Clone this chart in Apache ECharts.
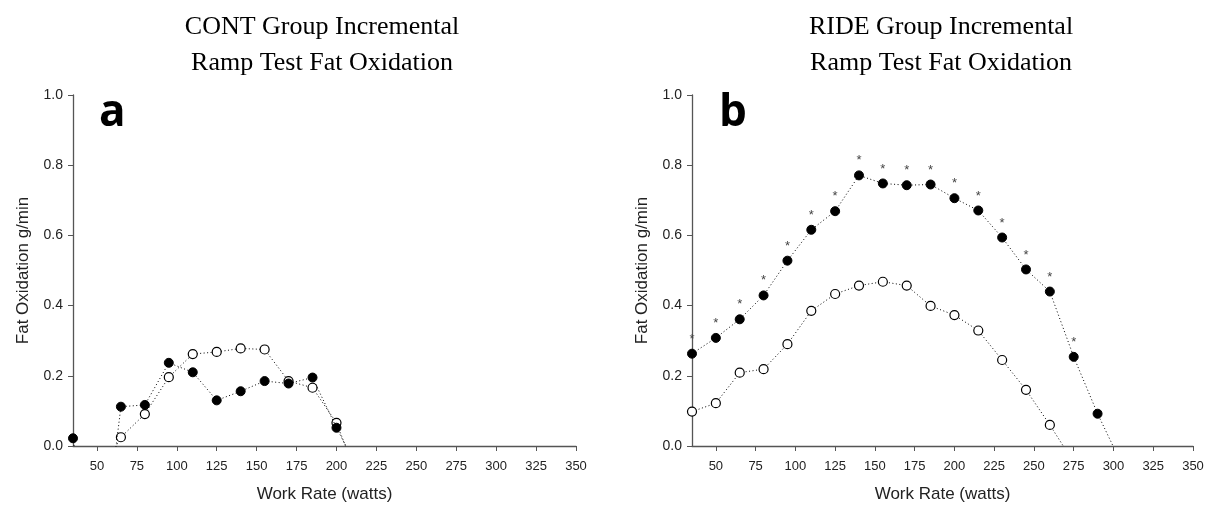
<!DOCTYPE html>
<html><head><meta charset="utf-8">
<script src="https://cdn.jsdelivr.net/npm/echarts@6/dist/echarts.min.js"></script>
<style>html,body{margin:0;padding:0;background:#fff}#c{width:1207px;height:508px}</style>
</head><body><div id="c"></div>
<script>
const xTicks = [50,75,100,125,150,175,200,225,250,275,300,325,350];
const yTicks = [0,0.2,0.4,0.6,0.8,1.0];

const contX = [35,50,65,80,95,110,125,140,155,170,185,200,215];
const contFilled = [0.022,-0.45,0.112,0.117,0.237,0.21,0.13,0.156,0.185,0.178,0.195,0.052,-0.08];
const contOpen = [null,-0.10,0.025,0.091,0.196,0.262,0.268,0.278,0.275,0.185,0.166,0.066,-0.11];

const rideX = [35,50,65,80,95,110,125,140,155,170,185,200,215,230,245,260,275,290,305];
const rideFilled = [0.263,0.308,0.361,0.429,0.528,0.616,0.669,0.771,0.748,0.743,0.745,0.706,0.671,0.594,0.503,0.44,0.254,0.092,-0.05];
const rideOpen = [0.098,0.122,0.209,0.219,0.29,0.385,0.433,0.457,0.468,0.457,0.399,0.373,0.329,0.245,0.16,0.06,-0.047,null,null];
const rideSig = [1,1,1,1,1,1,1,1,1,1,1,1,1,1,1,1,1,0,0];

const titles = ['CONT Group Incremental\nRamp Test Fat Oxidation','RIDE Group Incremental\nRamp Test Fat Oxidation'];
const panelLetters = ['a','b'];

function pairs(xs, ys){ return xs.map((x,i)=> ys[i]==null ? [x,null] : [x, ys[i]]); }

const axisCol = '#555';
function xAxis(gi){
  return {type:'value', gridIndex:gi, min:35, max:350,
    name:'Work Rate (watts)', nameLocation:'middle', nameGap:40,
    nameTextStyle:{fontFamily:'Liberation Sans', fontSize:17, color:'#222'},
    axisLine:{show:true, lineStyle:{color:axisCol, width:1.3}},
    axisTick:{show:true, length:5, lineStyle:{color:axisCol}, customValues:xTicks},
    axisLabel:{customValues:xTicks, fontFamily:'Liberation Sans', fontSize:13, color:'#222', margin:14},
    splitLine:{show:false}};
}
function yAxis(gi){
  return {type:'value', gridIndex:gi, min:0, max:1.0, interval:0.2,
    name:'Fat Oxidation g/min', nameLocation:'middle', nameGap:41, nameRotate:90,
    nameTextStyle:{fontFamily:'Liberation Sans', fontSize:17, color:'#222'},
    axisLine:{show:true, lineStyle:{color:axisCol, width:1.3}},
    axisTick:{show:true, length:5, lineStyle:{color:axisCol}},
    axisLabel:{fontFamily:'Liberation Sans', fontSize:14, color:'#222', margin:10, formatter:v=>v.toFixed(1)},
    splitLine:{show:false}};
}
const lineStyle = {color:'#000', width:1, type:[1,2.5]};
function series(gi, data, filled, labels){
  return {type:'line', xAxisIndex:gi, yAxisIndex:gi, data:data, clip:true,
    symbol:'circle', symbolSize:9, showAllSymbol:true, animation:false,
    lineStyle:lineStyle,
    itemStyle: filled ? {color:'#000', borderColor:'#000', borderWidth:1} : {color:'#fff', borderColor:'#000', borderWidth:1.2},
    label: labels ? {show:true, position:'top', distance:3, color:'#444', fontSize:13, fontFamily:'Liberation Sans',
      formatter:p=> labels[p.dataIndex] ? '*' : ''} : {show:false},
    emphasis:{disabled:true}, z: filled ? 3 : 2};
}

const chart = echarts.init(document.getElementById('c'));
const titleStyle = {fontFamily:'Liberation Serif', fontSize:26, fontWeight:'normal', color:'#000', lineHeight:36};
chart.setOption({
  animation:false,
  title: [
    {text:titles[0], left:317, top:4, textAlign:'center', textStyle:titleStyle},
    {text:titles[1], left:936, top:4, textAlign:'center', textStyle:titleStyle},
    {text:panelLetters[0], left:94, top:86, textStyle:{fontFamily:'Open Sans', fontSize:44, fontWeight:'bold', color:'#000'}},
    {text:panelLetters[1], left:714, top:86, textStyle:{fontFamily:'Open Sans', fontSize:44, fontWeight:'bold', color:'#000'}}
  ],
  grid:[
    {left:73, top:95, width:503, height:353},
    {left:692, top:95, width:501, height:353}
  ],
  xAxis:[xAxis(0), xAxis(1)],
  yAxis:[yAxis(0), yAxis(1)],
  series:[
    series(0, pairs(contX, contOpen), false),
    series(0, pairs(contX, contFilled), true),
    series(1, pairs(rideX, rideOpen), false),
    series(1, pairs(rideX, rideFilled), true, rideSig)
  ]
});
</script></body></html>
